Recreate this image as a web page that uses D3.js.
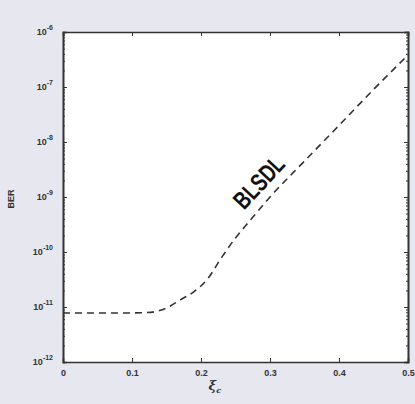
<!DOCTYPE html>
<html><head><meta charset="utf-8">
<script src="https://cdn.jsdelivr.net/npm/d3@7"></script>
<style>body{margin:0;background:#e7e7ef;}svg{display:block;}</style>
</head><body>
<script>
const xi = [0, 0.05, 0.1, 0.12, 0.14, 0.15, 0.17, 0.19, 0.21, 0.23, 0.25, 0.27, 0.3, 0.35, 0.4, 0.45, 0.5];
const ber = [7.8e-12, 7.8e-12, 7.8e-12, 7.9e-12, 8.6e-12, 9.6e-12, 1.35e-11, 1.9e-11, 3.3e-11, 8.0e-11, 1.8e-10, 3.6e-10, 1.0e-9, 4.5e-9, 2.0e-8, 9.0e-8, 3.8e-7];
const xTicks = [0, 0.1, 0.2, 0.3, 0.4, 0.5];
const xTickLabels = ["0", "0.1", "0.2", "0.3", "0.4", "0.5"];
const yTicks = [1e-12, 1e-11, 1e-10, 1e-9, 1e-8, 1e-7, 1e-6];
const yExps = ["-12", "-11", "-10", "-9", "-8", "-7", "-6"];

(function () {
const W = 415, H = 404;
const m = {l: 63, r: 7, t: 32, b: 42};
const svg = d3.select("body").append("svg").attr("width", W).attr("height", H);
svg.append("rect").attr("width", W).attr("height", H).attr("fill", "#e7e7ef");
const x = d3.scaleLinear().domain([0, 0.5]).range([m.l, W - m.r]);
const y = d3.scaleLog().domain([1e-12, 1e-6]).range([H - m.b, m.t]);

svg.append("rect").attr("x", m.l).attr("y", m.t).attr("width", W - m.r - m.l).attr("height", H - m.b - m.t)
  .attr("fill", "#fff");

const minor = [];
for (let e = -12; e < -6; e++) for (let k = 2; k <= 9; k++) minor.push(k * Math.pow(10, e));

const axB = svg.append("g").attr("transform", `translate(0,${H - m.b})`)
  .call(d3.axisBottom(x).tickValues(xTicks).tickFormat((d, i) => xTickLabels[i]).tickSize(-4).tickPadding(8));
const axT = svg.append("g").attr("transform", `translate(0,${m.t})`)
  .call(d3.axisTop(x).tickValues(xTicks).tickFormat("").tickSize(-4));
const axL = svg.append("g").attr("transform", `translate(${m.l},0)`)
  .call(d3.axisLeft(y).tickValues(yTicks).tickFormat("").tickSize(-4));
const axLm = svg.append("g").attr("transform", `translate(${m.l},0)`)
  .call(d3.axisLeft(y).tickValues(minor).tickFormat("").tickSize(-2));
const axR = svg.append("g").attr("transform", `translate(${W - m.r},0)`)
  .call(d3.axisRight(y).tickValues(yTicks).tickFormat("").tickSize(-4));
const axRm = svg.append("g").attr("transform", `translate(${W - m.r},0)`)
  .call(d3.axisRight(y).tickValues(minor).tickFormat("").tickSize(-2));
[axB, axT, axL, axLm, axR, axRm].forEach(a => {
  a.selectAll(".domain").attr("stroke", "#333").attr("stroke-width", 1.6);
  a.selectAll(".tick line").attr("stroke", "#333").attr("stroke-width", 1);
});
axB.selectAll(".tick text").attr("font-size", 9).attr("font-weight", "bold").attr("fill", "#333")
  .attr("font-family", "Liberation Sans, Arial, sans-serif");

const yl = svg.append("g").attr("font-family", "Liberation Sans, Arial, sans-serif").attr("font-weight", "bold").attr("fill", "#333");
yTicks.forEach((t, i) => {
  const tx = yl.append("text").attr("x", m.l - 10).attr("y", y(t) + 3).attr("text-anchor", "end").attr("font-size", 9);
  tx.append("tspan").text("10");
  tx.append("tspan").attr("dy", -5).attr("font-size", 7).text(yExps[i]);
});

svg.append("text").attr("transform", `translate(14,${(m.t + H - m.b) / 2 + 2}) rotate(-90)`)
  .attr("text-anchor", "middle").attr("font-size", 9).attr("font-weight", "bold").attr("fill", "#333")
  .attr("font-family", "Liberation Sans, Arial, sans-serif").text("BER");
const xl = svg.append("text").attr("x", x(0.22)).attr("y", H - 14).attr("text-anchor", "middle")
  .attr("font-size", 13).attr("font-style", "italic").attr("font-weight", "bold").attr("fill", "#333")
  .attr("font-family", "DejaVu Serif, serif");
xl.append("tspan").text("ξ");
xl.append("tspan").attr("dy", 3).attr("font-size", 8).text("c");

const line = d3.line().curve(d3.curveMonotoneX).x((d, i) => x(xi[i])).y(d => y(d));
svg.append("path").datum(ber).attr("d", line).attr("fill", "none").attr("stroke", "#333")
  .attr("stroke-width", 1.6).attr("stroke-dasharray", "7,5");

svg.append("text").attr("transform", `translate(${x(0.293)},${y(1.45e-9)}) rotate(-47)`)
  .attr("text-anchor", "middle").attr("font-size", 25).attr("font-weight", "bold").attr("fill", "#111")
  .attr("textLength", 62).attr("lengthAdjust", "spacingAndGlyphs")
  .attr("font-family", "Liberation Sans, Arial, sans-serif").text("BLSDL");
})();
</script>
</body></html>
